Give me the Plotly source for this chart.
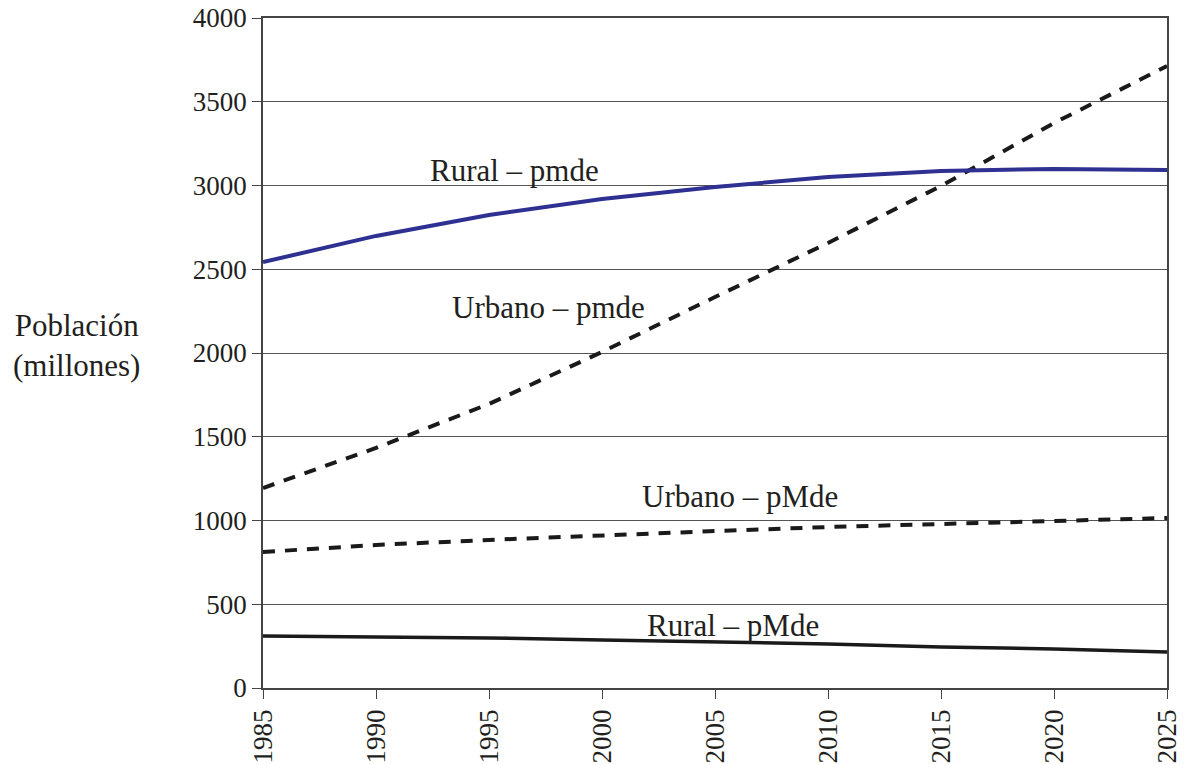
import plotly.graph_objects as go

years = [1985, 1990, 1995, 2000, 2005, 2010, 2015, 2020, 2025]
rural_pmde = [2543, 2699, 2824, 2919, 2991, 3051, 3087, 3099, 3093]
urbano_pmde = [1194, 1433, 1696, 2006, 2334, 2657, 2997, 3373, 3713]
urbano_pMde = [812, 854, 884, 913, 937, 961, 979, 997, 1015]
rural_pMde = [310, 304, 299, 287, 275, 263, 245, 233, 215]

y_ticks = [0, 500, 1000, 1500, 2000, 2500, 3000, 3500, 4000]

font = "Liberation Serif"
W, H = 1188, 765
L, R, T, B = 263, 1167, 18, 688   # plot area in page pixels

def px2paper(px, py):
    return (px - L) / (R - L), 1 - (py - T) / (B - T)

fig = go.Figure()
fig.add_trace(go.Scatter(x=years, y=urbano_pmde, mode="lines",
                         line=dict(color="#1a1a1a", width=4, dash="12px,10px")))
fig.add_trace(go.Scatter(x=years, y=urbano_pMde, mode="lines",
                         line=dict(color="#1a1a1a", width=4, dash="12px,10px")))
fig.add_trace(go.Scatter(x=years, y=rural_pmde, mode="lines",
                         line=dict(color="#2e3192", width=4)))
fig.add_trace(go.Scatter(x=years, y=rural_pMde, mode="lines",
                         line=dict(color="#1a1a1a", width=3.5)))

labels = [
    ("Rural – pmde", 514, 170),
    ("Urbano – pmde", 548, 307),
    ("Urbano – pMde", 740, 496),
    ("Rural – pMde", 733, 625),
    ("Población<br>(millones)", 76, 346),
]
for text, px, py in labels:
    ax, ay = px2paper(px, py)
    fig.add_annotation(x=ax, y=ay, xref="paper", yref="paper", text=text, showarrow=False,
                       font=dict(family=font, size=31, color="#231f20"),
                       xanchor="center", yanchor="middle")

fig.update_layout(
    width=W, height=H,
    margin=dict(l=L, r=W - R, t=T, b=H - B, autoexpand=False),
    paper_bgcolor="white", plot_bgcolor="white",
    showlegend=False, hovermode=False,
    font=dict(family=font, size=27, color="#231f20"),
)
fig.update_xaxes(range=[1985, 2025], tickvals=years, ticktext=[str(y) for y in years],
                 tickangle=-90, ticks="outside", ticklen=9, tickcolor="#444",
                 showgrid=False, showline=True, linecolor="#444", linewidth=1.5,
                 mirror=True, zeroline=False, automargin=False,
                 tickfont=dict(family=font, size=27, color="#231f20"))
fig.update_yaxes(range=[0, 4000], tickvals=y_ticks, ticks="outside", ticklen=9,
                 tickcolor="#444", showgrid=True, gridcolor="#555", gridwidth=1,
                 showline=True, linecolor="#444", linewidth=1.5, mirror=True,
                 zeroline=False, automargin=False,
                 tickfont=dict(family=font, size=27, color="#231f20"))

fig.write_html("out.html", config={"displayModeBar": False},
               post_script="document.body.style.margin='0';")
